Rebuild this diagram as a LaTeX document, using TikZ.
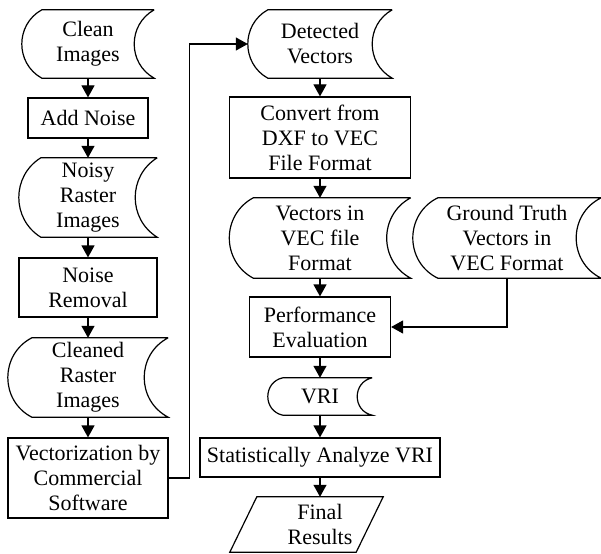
\documentclass[tikz,border=0pt]{standalone}
\usepackage{fontspec}
\setmainfont{Liberation Serif}
\usepackage{tikz}
\usetikzlibrary{
  calc,
  arrows.meta
}

\tikzset{
  box/.style={draw, line width=1.2pt, inner sep=0pt, align=center},
  stored/.style 2 args={inner sep=0pt, align=center, minimum height=#2,
    append after command={\pgfextra{
      \draw[line width=1.2pt] (\tikzlastnode.north east) -- ($(\tikzlastnode.north west)+(#1,0)$)
        .. controls ($(\tikzlastnode.north west)+({-#1/3},{#2/3*(1-4*#1*#1/(#2*#2))})$)
        and ($(\tikzlastnode.south west)+({-#1/3},{-#2/3*(1-4*#1*#1/(#2*#2))})$) .. ($(\tikzlastnode.south west)+(#1,0)$)
        -- (\tikzlastnode.south east)
        .. controls ($(\tikzlastnode.south east)+({-4*#1/3},{-#2/3*(1-4*#1*#1/(#2*#2))})$)
        and ($(\tikzlastnode.north east)+({-4*#1/3},{#2/3*(1-4*#1*#1/(#2*#2))})$) .. (\tikzlastnode.north east);
    }}},
  slanted/.style={inner sep=0pt, align=center,
    append after command={\pgfextra{
      \draw[line width=1.2pt] (\tikzlastnode.north west) -- (\tikzlastnode.north east)
        -- ($(\tikzlastnode.south east)+(-#1,0)$) -- ($(\tikzlastnode.south west)+(-#1,0)$) -- cycle;
    }}},
  arr/.style={line width=1.2pt, -{Triangle[length=12pt,width=13pt]}}
}

\begin{document}
\begin{tikzpicture}[x=1pt, y=-1pt, font=\fontsize{22}{25}\selectfont]
\useasboundingbox (0,0) rectangle (601,553);

% left column
\node [stored={20}{68}, minimum width=132] (clean) at (88,44) {Clean\\Images};
\node [box, minimum width=120, minimum height=40] (addnoise) at (88,118) {Add Noise};
\node [stored={22}{79}, minimum width=138] (noisy) at (88,197.5) {Noisy\\Raster\\Images};
\node [box, minimum width=138, minimum height=59] (removal) at (88,287.5) {Noise\\Removal};
\node [stored={24}{79}, minimum width=160] (cleaned) at (88,377.5) {Cleaned\\Raster\\Images};
\node [box, minimum width=160, minimum height=80] (vectorize) at (88,478) {Vectorization by\\Commercial\\Software};

% right column
\node [stored={20}{68}, minimum width=144] (detected) at (320,44) {Detected\\Vectors};
\node [box, minimum width=181, minimum height=81] (convert) at (320,137.5) {Convert from\\DXF to VEC\\File Format};
\node [stored={24}{80}, minimum width=181] (vecfile) at (320,238) {Vectors in\\VEC file\\Format};
\node [stored={25}{80}, minimum width=188] (truth) at (507,238) {Ground Truth\\Vectors in\\VEC Format};
\node [box, minimum width=141, minimum height=60] (perf) at (320,327) {Performance\\Evaluation};
\node [stored={15}{37}, minimum width=104] (vri) at (320,396.5) {VRI};
\node [box, minimum width=240, minimum height=39] (stats) at (320,457.5) {Statistically Analyze VRI};
\node [slanted=27, minimum width=126, minimum height=55] (final) at (320,524.5) {Final\\Results};

\draw [arr] (clean) -- (addnoise);
\draw [arr] (addnoise) -- (noisy);
\draw [arr] (noisy) -- (removal);
\draw [arr] (removal) -- (cleaned);
\draw [arr] (cleaned) -- (vectorize);
\draw [arr] (vectorize.east) -- ++(21,0) |- (detected.west);

\draw [arr] (detected) -- (convert);
\draw [arr] (convert) -- (vecfile);
\draw [arr] (vecfile) -- (perf);
\draw [arr] (truth.south) |- (perf.east);
\draw [arr] (perf) -- (vri);
\draw [arr] (vri) -- (stats);
\draw [arr] (stats) -- (final);
\end{tikzpicture}
\end{document}
